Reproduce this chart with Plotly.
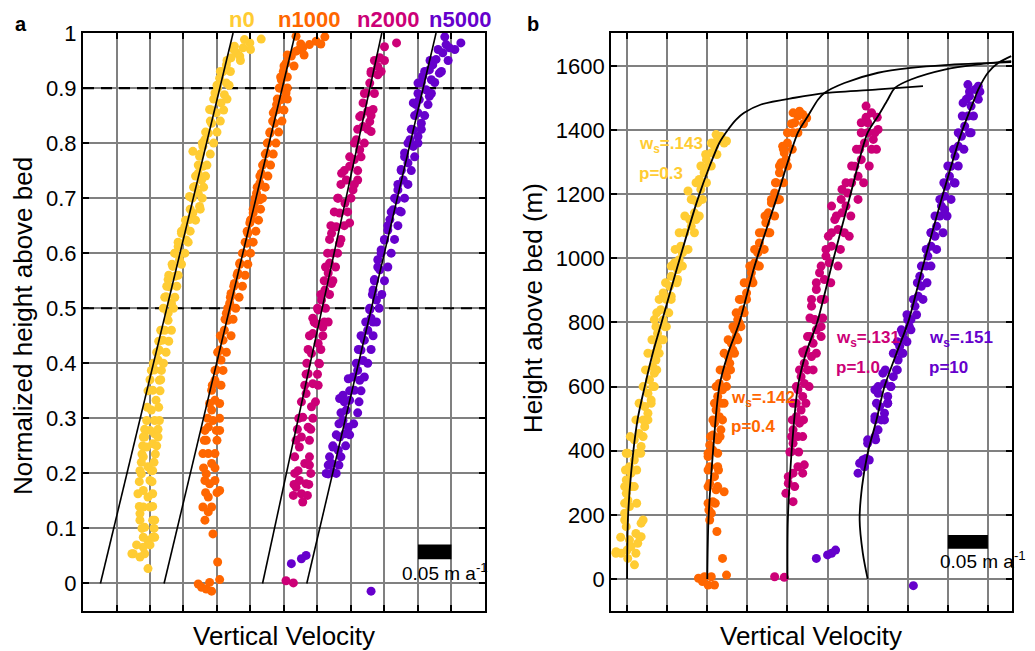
import plotly.graph_objects as go
from plotly.subplots import make_subplots

FONT = "Arial, Liberation Sans, sans-serif"
YEL, ORG, MAG, PUR = "#FFCC33", "#FF6600", "#CC0077", "#6600CC"
series_names = ["n0", "n1000", "n2000", "n5000"]
colors = [YEL, ORG, MAG, PUR]

# ---------------- Panel a: normalized height vs vertical velocity (m/a, offset) ----------------
a_yellow = [(0.266,0.989),(0.249,0.982),(0.241,0.988),(0.239,0.973),(0.226,0.976),(0.229,0.964),(0.221,0.955),(0.234,0.958),
            (0.214,0.942),(0.209,0.930),(0.204,0.918),(0.214,0.909),(0.201,0.900),(0.197,0.891),(0.211,0.888),(0.206,0.873),
            (0.189,0.861),(0.199,0.855),(0.192,0.836),(0.187,0.818),(0.182,0.806),(0.179,0.794),(0.164,0.785),(0.174,0.776),
            (0.179,0.758),(0.172,0.745),(0.177,0.733),(0.167,0.721),(0.172,0.709),(0.159,0.703),(0.174,0.685),(0.164,0.673),
            (0.159,0.661),(0.152,0.648),(0.147,0.636),(0.154,0.624),(0.142,0.612),(0.137,0.600),(0.144,0.588),(0.134,0.576),
            (0.137,0.558),(0.127,0.552),(0.129,0.539),(0.124,0.521),(0.132,0.509),(0.127,0.491),(0.127,0.478),(0.122,0.460),
            (0.119,0.442),(0.114,0.424),(0.112,0.406),(0.107,0.388),(0.114,0.369),(0.104,0.351),(0.109,0.333),(0.102,0.315),
            (0.107,0.296),(0.100,0.278),(0.107,0.272),(0.092,0.266),(0.104,0.254),(0.095,0.248),(0.090,0.230),(0.097,0.212),
            (0.102,0.205),(0.087,0.199),(0.100,0.187),(0.090,0.169),(0.097,0.157),(0.090,0.139),(0.100,0.139),(0.085,0.127),
            (0.104,0.115),(0.092,0.102),(0.104,0.084),(0.097,0.078),(0.090,0.066),(0.075,0.054),(0.085,0.048),(0.097,0.027)]
a_orange = [(0.318,0.994),(0.361,0.993),(0.348,0.985),(0.338,0.979),(0.328,0.973),(0.323,0.970),(0.318,0.967),(0.311,0.958),
            (0.303,0.945),(0.299,0.930),(0.296,0.915),(0.294,0.900),(0.303,0.891),(0.296,0.879),(0.289,0.870),(0.291,0.861),
            (0.284,0.855),(0.286,0.836),(0.279,0.818),(0.276,0.800),(0.274,0.782),(0.271,0.764),(0.266,0.745),(0.264,0.727),
            (0.259,0.709),(0.264,0.697),(0.256,0.691),(0.254,0.673),(0.251,0.661),(0.249,0.655),(0.246,0.636),(0.244,0.618),
            (0.239,0.600),(0.234,0.582),(0.231,0.564),(0.226,0.545),(0.221,0.527),(0.219,0.509),(0.214,0.491),(0.216,0.478),
            (0.211,0.460),(0.209,0.442),(0.204,0.424),(0.206,0.406),(0.199,0.388),(0.197,0.369),(0.192,0.351),(0.197,0.333),
            (0.192,0.315),(0.194,0.296),(0.187,0.284),(0.199,0.278),(0.184,0.260),(0.187,0.236),(0.192,0.218),(0.184,0.199),
            (0.189,0.181),(0.204,0.169),(0.187,0.157),(0.187,0.130),(0.182,0.115),(0.194,0.090),(0.201,0.039),(0.204,0.007),
            (0.172,-0.001),(0.177,-0.007),(0.184,-0.010),(0.192,-0.014),(0.189,0.002)]
a_magenta = [(0.468,0.982),(0.450,0.975),(0.443,0.955),(0.440,0.939),(0.430,0.927),(0.440,0.924),(0.428,0.909),(0.423,0.891),
             (0.418,0.873),(0.425,0.858),(0.433,0.861),(0.413,0.848),(0.428,0.839),(0.430,0.821),(0.418,0.830),(0.408,0.806),
             (0.413,0.788),(0.405,0.770),(0.398,0.758),(0.386,0.745),(0.393,0.733),(0.410,0.733),(0.403,0.715),(0.381,0.700),
             (0.391,0.691),(0.383,0.673),(0.398,0.655),(0.378,0.648),(0.371,0.636),(0.383,0.618),(0.373,0.600),(0.368,0.582),
             (0.366,0.564),(0.371,0.545),(0.361,0.533),(0.356,0.515),(0.351,0.497),(0.343,0.482),(0.366,0.475),(0.348,0.472),
             (0.358,0.466),(0.343,0.454),(0.351,0.436),(0.341,0.418),(0.353,0.399),(0.336,0.381),(0.343,0.363),(0.333,0.345),
             (0.341,0.321),(0.328,0.302),(0.336,0.284),(0.326,0.266),(0.323,0.248),(0.331,0.218),(0.338,0.215),(0.321,0.205),
             (0.323,0.187),(0.333,0.181),(0.318,0.175),(0.326,0.163),(0.328,0.148),(0.303,0.005),(0.314,0.001)]
a_purple = [(0.540,0.993),(0.564,0.982),(0.542,0.979),(0.547,0.973),(0.537,0.964),(0.527,0.952),(0.522,0.942),(0.517,0.933),
            (0.532,0.927),(0.507,0.921),(0.520,0.915),(0.500,0.909),(0.512,0.897),(0.517,0.885),(0.502,0.879),(0.493,0.873),
            (0.500,0.855),(0.505,0.836),(0.493,0.824),(0.500,0.812),(0.488,0.806),(0.493,0.794),(0.480,0.782),(0.485,0.764),
            (0.475,0.752),(0.478,0.733),(0.470,0.715),(0.468,0.697),(0.463,0.679),(0.473,0.676),(0.458,0.661),(0.455,0.642),
            (0.450,0.624),(0.445,0.606),(0.440,0.588),(0.443,0.570),(0.435,0.552),(0.433,0.533),(0.438,0.515),(0.428,0.497),
            (0.430,0.482),(0.433,0.475),(0.425,0.460),(0.420,0.442),(0.415,0.424),(0.418,0.405),(0.410,0.387),(0.413,0.369),
            (0.396,0.372),(0.405,0.351),(0.388,0.342),(0.398,0.333),(0.383,0.336),(0.393,0.315),(0.388,0.296),(0.396,0.284),
            (0.383,0.266),(0.391,0.272),(0.373,0.248),(0.381,0.242),(0.371,0.218),(0.366,0.199),(0.373,0.202),
            (0.311,0.036),(0.326,0.045),(0.333,0.051),(0.430,-0.014)]
# band edges: (height, left x, right x)
a_yellow_band = [(0.97,0.225,0.250),(0.95,0.215,0.235),(0.93,0.205,0.220),(0.905,0.200,0.218),(0.88,0.195,0.215),
                 (0.86,0.192,0.210),(0.84,0.190,0.205),(0.82,0.183,0.200),(0.80,0.178,0.195),(0.78,0.175,0.190),
                 (0.76,0.172,0.185),(0.74,0.168,0.183),(0.72,0.165,0.180),(0.70,0.163,0.178),(0.68,0.160,0.175),
                 (0.66,0.153,0.168),(0.64,0.147,0.160),(0.62,0.142,0.157),(0.60,0.137,0.152),(0.58,0.133,0.147),
                 (0.56,0.128,0.142),(0.54,0.125,0.140),(0.52,0.122,0.137),(0.50,0.120,0.135),(0.46,0.116,0.132),
                 (0.44,0.113,0.128),(0.42,0.110,0.124),(0.40,0.105,0.120),(0.387,0.102,0.117),(0.37,0.100,0.116),
                 (0.35,0.097,0.115),(0.32,0.096,0.113),(0.296,0.095,0.114),(0.28,0.092,0.112),(0.266,0.090,0.112),
                 (0.25,0.089,0.110),(0.235,0.088,0.108),(0.22,0.087,0.106),(0.205,0.085,0.104),(0.185,0.084,0.103),
                 (0.163,0.082,0.104),(0.14,0.084,0.104),(0.115,0.085,0.107),(0.10,0.088,0.106),(0.084,0.090,0.107),
                 (0.07,0.080,0.100),(0.054,0.073,0.092)]
a_orange_band = [(0.98,0.325,0.355),(0.96,0.305,0.330),(0.94,0.300,0.315),(0.92,0.295,0.305),(0.90,0.293,0.305),
                 (0.88,0.290,0.305),(0.86,0.287,0.300),(0.84,0.283,0.297),(0.82,0.279,0.292),(0.80,0.275,0.288),
                 (0.78,0.272,0.284),(0.76,0.268,0.280),(0.74,0.264,0.276),(0.72,0.260,0.272),(0.70,0.257,0.268),
                 (0.68,0.254,0.265),(0.66,0.250,0.262),(0.64,0.245,0.258),(0.62,0.242,0.254),(0.60,0.238,0.250),
                 (0.58,0.234,0.246),(0.56,0.230,0.242),(0.54,0.225,0.238),(0.52,0.220,0.233),(0.50,0.216,0.228),
                 (0.48,0.212,0.224),(0.45,0.205,0.221),(0.42,0.201,0.214),(0.387,0.197,0.209),(0.36,0.193,0.206),
                 (0.327,0.189,0.204),(0.30,0.186,0.204),(0.278,0.182,0.204),(0.26,0.181,0.200),(0.236,0.179,0.197),
                 (0.21,0.180,0.197),(0.187,0.182,0.197),(0.165,0.183,0.200),(0.139,0.179,0.192)]
a_magenta_band = [(0.95,0.435,0.450),(0.93,0.430,0.445),(0.89,0.420,0.435),(0.85,0.415,0.430),(0.825,0.410,0.425),
                  (0.80,0.405,0.420),(0.775,0.398,0.415),(0.75,0.390,0.410),(0.725,0.385,0.405),(0.70,0.380,0.400),
                  (0.675,0.375,0.395),(0.65,0.370,0.390),(0.625,0.368,0.385),(0.60,0.365,0.380),(0.575,0.362,0.377),
                  (0.55,0.360,0.373),(0.525,0.355,0.368),(0.50,0.350,0.362),(0.475,0.345,0.360),(0.45,0.338,0.358),
                  (0.425,0.336,0.355),(0.40,0.334,0.352),(0.38,0.333,0.350),(0.36,0.331,0.351),(0.33,0.326,0.347),
                  (0.30,0.322,0.343),(0.28,0.320,0.340),(0.26,0.318,0.338),(0.23,0.316,0.338),(0.20,0.316,0.340),
                  (0.18,0.315,0.337),(0.16,0.314,0.335)]
a_purple_band = [(0.97,0.530,0.555),(0.95,0.518,0.545),(0.93,0.510,0.535),(0.91,0.505,0.525),(0.89,0.500,0.520),
                 (0.87,0.497,0.515),(0.85,0.495,0.510),(0.825,0.490,0.505),(0.80,0.485,0.500),(0.775,0.480,0.495),
                 (0.75,0.475,0.490),(0.725,0.470,0.485),(0.70,0.465,0.480),(0.675,0.460,0.475),(0.65,0.455,0.470),
                 (0.625,0.450,0.465),(0.60,0.445,0.460),(0.575,0.440,0.455),(0.55,0.435,0.450),(0.525,0.432,0.446),
                 (0.50,0.428,0.442),(0.475,0.422,0.438),(0.45,0.415,0.433),(0.425,0.411,0.430),(0.40,0.408,0.425),
                 (0.375,0.403,0.420),(0.35,0.398,0.415),(0.33,0.390,0.412),(0.31,0.385,0.410),(0.29,0.382,0.404),
                 (0.27,0.378,0.398),(0.25,0.373,0.392),(0.23,0.368,0.385),(0.215,0.366,0.382),(0.20,0.363,0.378)]
a_points = [a_yellow, a_orange, a_magenta, a_purple]
a_bands = [a_yellow_band, a_orange_band, a_magenta_band, a_purple_band]
# straight-line fits: x at height 0 and at height 1
a_fit_x0 = [0.026, 0.121, 0.268, 0.334]
a_fit_x1 = [0.224, 0.317, 0.446, 0.527]
a_fit_h = [0.0, 1.0]

# ---------------- Panel b: height above bed (m) vs vertical velocity (m/a, offset) ----------------
b_yellow = [(-0.0137,85),(-0.0075,80),(0.0008,64),(0.0092,44),(0.0,90),(0.005,101),(0.0133,111),(0.0175,132),(0.0175,174),
            (0.011,142),(0.003,122),(-0.001,163),(-0.003,205),(0.003,226),(0.001,246),(-0.001,267),(0.005,288),(-0.001,309),
            (0.005,330),(0.003,350),(0.009,371),(0.001,392),(0.013,392),(0.0175,413),(0.009,434),(0.015,454),(0.022,475),
            (0.020,496),(0.026,517),(0.022,538),(0.030,558),(0.026,579),(0.032,600),(0.028,621),(0.034,642),(0.032,662),
            (0.036,683),(0.034,704),(0.038,725),(0.042,746),(0.038,766),(0.047,787),(0.045,808),(0.034,809),(0.042,840),
            (0.049,872),(0.055,882),(0.045,892),(0.053,913),(0.063,934),(0.055,944),(0.063,965),(0.059,986),(0.065,996),
            (0.069,1017),(0.067,1038),(0.072,1080),(0.080,1100),(0.078,1121),(0.086,1121),(0.084,1142),(0.088,1173),
            (0.082,1183),(0.076,1210),(0.092,1215),(0.094,1236),(0.090,1246),(0.096,1267),(0.101,1287),(0.099,1308),
            (0.105,1329),(0.109,1350),(0.113,1371),(0.117,1381),(0.124,1366),(0.111,1386)]
b_orange = [(0.089,2),(0.094,-8),(0.101,-19),(0.109,-19),(0.105,7),(0.0965,7),(0.124,12),(0.119,64),(0.112,148),(0.103,184),
            (0.105,205),(0.102,215),(0.107,241),(0.121,272),(0.111,278),(0.103,298),(0.109,319),(0.103,350),(0.113,350),
            (0.101,382),(0.107,402),(0.103,418),(0.113,434),(0.107,449),(0.117,465),(0.109,486),(0.115,506),(0.111,527),
            (0.117,548),(0.113,569),(0.119,590),(0.115,610),(0.124,631),(0.121,652),(0.128,673),(0.126,694),(0.132,714),
            (0.130,735),(0.136,756),(0.134,777),(0.140,798),(0.138,809),(0.144,840),(0.142,872),(0.149,892),(0.151,924),
            (0.155,934),(0.155,955),(0.163,976),(0.159,986),(0.163,1017),(0.165,1048),(0.169,1080),(0.176,1080),(0.173,1111),
            (0.176,1142),(0.180,1173),(0.188,1183),(0.184,1204),(0.186,1236),(0.190,1267),(0.192,1298),(0.198,1308),
            (0.196,1329),(0.194,1350),(0.200,1360),(0.207,1392),(0.209,1423),(0.213,1444),(0.219,1449),(0.224,1438),
            (0.207,1454),(0.215,1459)]
b_magenta = [(0.184,7),(0.196,5),(0.207,241),(0.198,267),(0.209,288),(0.201,298),(0.219,330),(0.213,350),(0.221,356),
             (0.201,319),(0.207,330),(0.205,397),(0.207,423),(0.213,444),(0.207,465),(0.215,486),(0.211,506),(0.217,527),
             (0.211,548),(0.219,569),(0.213,590),(0.221,610),(0.217,631),(0.225,652),(0.221,673),(0.230,694),(0.219,709),
             (0.223,714),(0.232,735),(0.228,756),(0.236,777),(0.242,787),(0.234,808),(0.234,809),(0.230,851),(0.242,872),
             (0.236,903),(0.246,934),(0.240,955),(0.252,986),(0.248,1007),(0.255,1038),(0.251,1069),(0.277,1069),(0.263,1090),
             (0.259,1121),(0.268,1142),(0.255,1163),(0.273,1163),(0.275,1204),(0.268,1215),(0.280,1236),(0.288,1256),
             (0.284,1287),(0.292,1308),(0.290,1340),(0.311,1340),(0.296,1360),(0.307,1371),(0.300,1392),(0.313,1402),
             (0.300,1423),(0.292,1423),(0.305,1454),(0.298,1475)]
b_purple = [(0.357,-21),(0.236,64),(0.255,80),(0.260,90),(0.250,75),(0.288,330),(0.296,350),(0.290,361),(0.298,376),
            (0.300,423),(0.309,444),(0.313,465),(0.317,496),(0.309,506),(0.321,517),(0.315,538),(0.325,548),(0.325,569),
            (0.313,579),(0.309,590),(0.329,600),(0.321,610),(0.332,631),(0.319,642),(0.336,652),(0.338,683),(0.342,704),
            (0.340,725),(0.346,746),(0.344,766),(0.352,787),(0.350,808),(0.354,809),(0.359,851),(0.363,882),(0.367,913),
            (0.365,944),(0.373,976),(0.375,1007),(0.379,1038),(0.384,1069),(0.379,1080),(0.386,1100),(0.390,1132),
            (0.396,1152),(0.392,1163),(0.396,1194),(0.398,1225),(0.409,1235),(0.402,1256),(0.404,1287),(0.409,1319),
            (0.413,1350),(0.417,1381),(0.429,1392),(0.421,1412),(0.425,1444),(0.429,1475),(0.419,1485),(0.427,1506),
            (0.434,1527),(0.438,1537),(0.425,1542)]
b_yellow_band = [(80,-0.014,0.011),(130,-0.008,0.016),(184,-0.003,0.020),(236,-0.003,0.012),(288,-0.003,0.009),
                 (340,-0.002,0.012),(392,-0.001,0.017),(444,0.004,0.020),(496,0.011,0.026),(548,0.015,0.030),
                 (600,0.020,0.034),(652,0.023,0.037),(704,0.026,0.040),(746,0.031,0.045),(787,0.036,0.049),
                 (830,0.037,0.052),(872,0.040,0.055),(924,0.048,0.062),(976,0.055,0.069),(1028,0.060,0.076),
                 (1080,0.065,0.084),(1132,0.072,0.090),(1184,0.080,0.094),(1236,0.086,0.099),(1288,0.092,0.105),
                 (1324,0.098,0.112),(1360,0.105,0.121)]
b_orange_band = [(236,0.101,0.110),(288,0.101,0.113),(340,0.101,0.114),(392,0.101,0.113),(444,0.104,0.116),
                 (496,0.107,0.119),(548,0.109,0.121),(600,0.111,0.124),(652,0.116,0.129),(704,0.121,0.134),
                 (746,0.126,0.138),(787,0.132,0.142),(830,0.136,0.146),(872,0.140,0.149),(924,0.146,0.157),
                 (976,0.153,0.165),(1028,0.159,0.171),(1080,0.165,0.178),(1132,0.172,0.184),(1184,0.180,0.190),
                 (1236,0.185,0.195),(1288,0.190,0.200),(1340,0.195,0.206),(1392,0.200,0.213),(1420,0.205,0.220)]
b_magenta_band = [(396,0.203,0.214),(444,0.205,0.219),(496,0.206,0.220),(548,0.207,0.223),(600,0.211,0.227),
                  (652,0.215,0.232),(704,0.220,0.236),(756,0.225,0.242),(814,0.228,0.244),(872,0.230,0.246),
                  (924,0.236,0.254),(976,0.242,0.263),(1028,0.248,0.266),(1080,0.255,0.271),(1132,0.261,0.279),
                  (1184,0.267,0.288),(1236,0.273,0.295),(1288,0.280,0.302),(1340,0.286,0.305),(1392,0.292,0.309),
                  (1440,0.298,0.312)]
b_purple_band = [(371,0.294,0.302),(434,0.300,0.310),(496,0.309,0.321),(548,0.311,0.325),(600,0.313,0.329),
                 (652,0.322,0.337),(704,0.332,0.344),(740,0.337,0.349),(777,0.342,0.354),(824,0.349,0.361),
                 (872,0.357,0.369),(924,0.362,0.374),(976,0.367,0.379),(1028,0.373,0.386),(1080,0.379,0.394),
                 (1132,0.384,0.399),(1184,0.390,0.404),(1236,0.395,0.408),(1288,0.400,0.413),(1340,0.407,0.420),
                 (1392,0.413,0.427),(1444,0.418,0.432),(1496,0.423,0.438),(1520,0.427,0.440)]
b_points = [b_yellow, b_orange, b_magenta, b_purple]
b_bands = [b_yellow_band, b_orange_band, b_magenta_band, b_purple_band]

# model profiles
b_curve_yellow = [(0.0,0),(0.001,184),(0.005,330),(0.013,496),(0.022,600),(0.032,704),(0.043,800),(0.063,976),(0.088,1184),
                  (0.103,1288),(0.115,1360),(0.126,1402),(0.136,1433),(0.146,1454),(0.167,1480),(0.209,1501),(0.250,1516),
                  (0.313,1527),(0.369,1537)]
b_curve_orange = [(0.1,0),(0.1015,184),(0.107,392),(0.115,600),(0.126,704),(0.140,800),(0.159,976),(0.186,1184),
                  (0.213,1392),(0.2255,1444),(0.238,1495),(0.246,1516),(0.271,1547),(0.313,1579),(0.354,1594),(0.396,1603),
                  (0.479,1612)]
b_curve_magenta = [(0.2,0),(0.2005,184),(0.205,392),(0.213,600),(0.223,704),(0.237,800),(0.255,976),(0.277,1184),
                   (0.300,1392),(0.313,1444),(0.325,1495),(0.334,1532),(0.354,1558),(0.396,1589),(0.438,1605),(0.479,1615)]
b_curve_purple = [(0.3,0),(0.294,80),(0.290,184),(0.293,288),(0.300,392),(0.311,496),(0.321,600),(0.336,704),(0.351,805),
                  (0.369,976),(0.392,1184),(0.417,1392),(0.433,1496),(0.438,1527),(0.450,1579),(0.463,1610),(0.479,1631)]
b_curves = [b_curve_yellow, b_curve_orange, b_curve_magenta, b_curve_purple]
b_ws = [".143", ".142", ".131", ".151"]
b_p = ["0.3", "0.4", "1.0", "10"]
b_label_pos = [(0.0125, 1353), (0.127, 561), (0.258, 748), (0.374, 748)]


def cloud(pts, band):
    xs = [p[0] for p in pts] + [b[1] for b in band] + [b[2] for b in band]
    ys = [p[1] for p in pts] + [b[0] for b in band] + [b[0] for b in band]
    return xs, ys


fig = make_subplots(rows=1, cols=2)

MS = 9
for pts, band, c, nm in zip(a_points, a_bands, colors, series_names):
    xs, ys = cloud(pts, band)
    fig.add_trace(go.Scatter(x=xs, y=ys, mode="markers",
                             marker=dict(color=c, size=MS, line=dict(width=0)), name=nm, showlegend=False),
                  row=1, col=1)
for x0, x1 in zip(a_fit_x0, a_fit_x1):
    fig.add_trace(go.Scatter(x=[x0, x1], y=a_fit_h, mode="lines", line=dict(color="black", width=1.6),
                             showlegend=False), row=1, col=1)

for pts, band, c, nm in zip(b_points, b_bands, colors, series_names):
    xs, ys = cloud(pts, band)
    fig.add_trace(go.Scatter(x=xs, y=ys, mode="markers",
                             marker=dict(color=c, size=MS, line=dict(width=0)), name=nm, showlegend=False),
                  row=1, col=2)
for cv in b_curves:
    fig.add_trace(go.Scatter(x=[p[0] for p in cv], y=[p[1] for p in cv], mode="lines",
                             line=dict(color="black", width=1.8, shape="spline", smoothing=0.8),
                             showlegend=False), row=1, col=2)

axis_common = dict(showgrid=True, gridcolor="#808080", gridwidth=1.5, showline=True, linecolor="black",
                   linewidth=2, mirror="allticks", ticks="inside", ticklen=6, tickwidth=1.5, tickcolor="black",
                   zeroline=False, tickfont=dict(family=FONT, size=22, color="black"))

fig.update_xaxes(axis_common)
fig.update_yaxes(axis_common)
fig.update_xaxes(range=[0, 0.6], tick0=0, dtick=0.05, showticklabels=False, domain=[0, 0.4327], row=1, col=1)
fig.update_xaxes(range=[-0.02, 0.48], tick0=0, dtick=0.05, showticklabels=False, domain=[0.5684, 1.0], row=1, col=2)
fig.update_yaxes(range=[-0.05, 1.0], tick0=0, dtick=0.1, row=1, col=1)
fig.update_yaxes(range=[-100, 1703], tick0=0, dtick=200, row=1, col=2)

# dashed reference lines in panel a
for h in [0.5, 0.9]:
    fig.add_shape(type="line", xref="x", yref="y", x0=0, x1=0.6, y0=h, y1=h,
                  line=dict(color="black", width=2.2, dash="11px,7px"), layer="between")

# scale bars
fig.add_shape(type="rect", xref="x", yref="y", x0=0.5, x1=0.55, y0=0.044, y1=0.071,
              fillcolor="black", line=dict(width=0))
fig.add_shape(type="rect", xref="x2", yref="y2", x0=0.4, x1=0.45, y0=94, y1=137,
              fillcolor="black", line=dict(width=0))

ann = []
tf = dict(family=FONT, size=19, color="black")
ann.append(dict(x=0.473, y=0.02, xref="x", yref="y", text="0.05 m a<sup>-1</sup>", showarrow=False,
                xanchor="left", yanchor="middle", font=tf))
ann.append(dict(x=0.388, y=59, xref="x2", yref="y2", text="0.05 m a<sup>-1</sup>", showarrow=False,
                xanchor="left", yanchor="middle", font=tf))
# series labels above panel a
for nm, c, xx in zip(series_names, colors, [0.237, 0.337, 0.455, 0.563]):
    ann.append(dict(x=xx, y=1.0225, xref="x", yref="paper", text="<b>%s</b>" % nm, showarrow=False,
                    xanchor="center", yanchor="middle", font=dict(family=FONT, size=22, color=c)))
# fit labels in panel b
for (lx, ly), ws, p, c in zip(b_label_pos, b_ws, b_p, colors):
    ann.append(dict(x=lx, y=ly, xref="x2", yref="y2", text="<b>w<sub>s</sub>=%s</b>" % ws, showarrow=False,
                    xanchor="left", yanchor="middle", font=dict(family=FONT, size=17, color=c)))
    ann.append(dict(x=lx, y=ly - 87, xref="x2", yref="y2", text="<b>p=%s</b>" % p, showarrow=False,
                    xanchor="left", yanchor="middle", font=dict(family=FONT, size=17, color=c)))
# panel letters
mid = dict(xanchor="center", yanchor="middle", showarrow=False, xref="paper", yref="paper")
ann.append(dict(x=-0.0667, y=1.0156, text="<b>a</b>", font=dict(family=FONT, size=20, color="black"), **mid))
ann.append(dict(x=0.4844, y=1.0156, text="<b>b</b>", font=dict(family=FONT, size=20, color="black"), **mid))
# axis titles
ann.append(dict(x=0.2164, y=-0.0433, text="Vertical Velocity", font=dict(family=FONT, size=26, color="black"), **mid))
ann.append(dict(x=0.7836, y=-0.0433, text="Vertical Velocity", font=dict(family=FONT, size=26, color="black"), **mid))
ann.append(dict(x=-0.0646, y=0.493, text="Normalized height above bed", textangle=-90,
                font=dict(family=FONT, size=26, color="black"), **mid))
ann.append(dict(x=0.4844, y=0.524, text="Height above bed (m)", textangle=-90,
                font=dict(family=FONT, size=26, color="black"), **mid))

fig.update_layout(width=1035, height=651, margin=dict(l=83, r=23, t=33, b=40),
                  plot_bgcolor="white", paper_bgcolor="white", annotations=ann, showlegend=False,
                  font=dict(family=FONT))
# remove the default page margin so the figure sits at the window's top-left corner
fig.write_html("out.html", config={"displayModeBar": False},
               post_script="document.body.style.margin='0';")
